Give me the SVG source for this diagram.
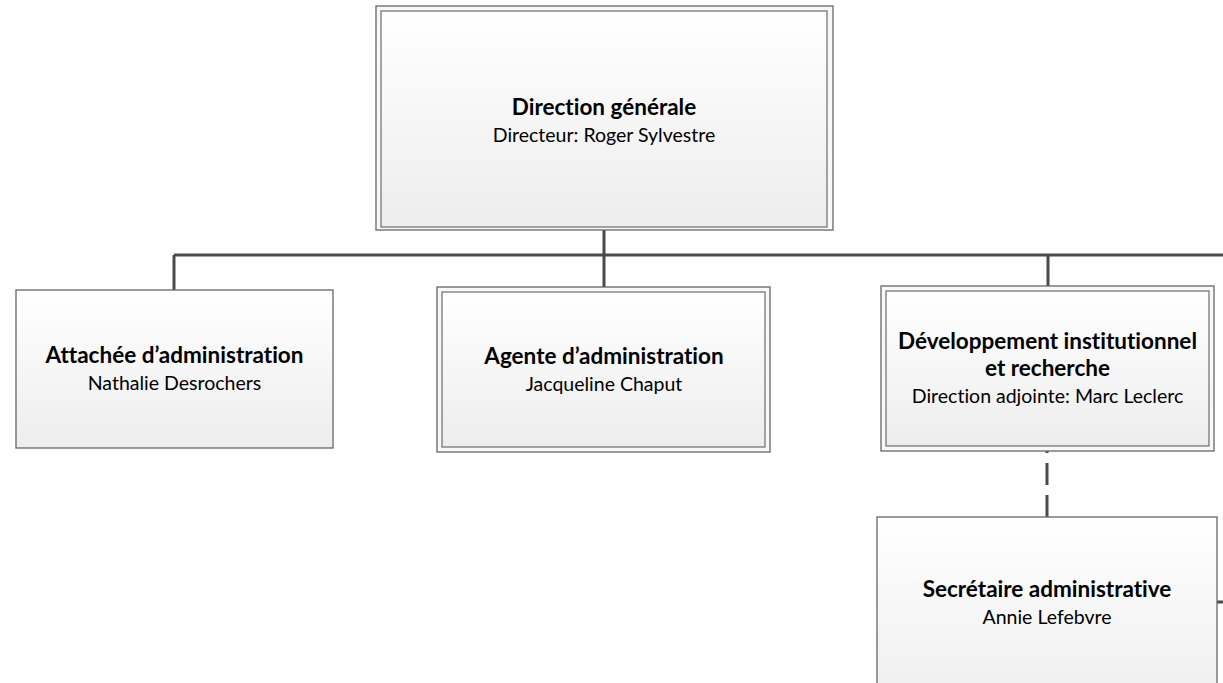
<svg xmlns="http://www.w3.org/2000/svg" width="1223" height="683" viewBox="0 0 1223 683">
<defs>
<linearGradient id="g" x1="0" y1="0" x2="0" y2="1">
<stop offset="0" stop-color="#ffffff"/>
<stop offset="1" stop-color="#ededed"/>
</linearGradient>
<style>
.outer{fill:#f8f8f8;stroke:#666666;stroke-width:1.3}
.inner{fill:url(#g);stroke:#777777;stroke-width:1.3}
.single{fill:url(#g);stroke:#666666;stroke-width:1.3}
.conn{fill:none;stroke:#4a4a4a;stroke-width:3}
.dash{fill:none;stroke:#4a4a4a;stroke-width:3;stroke-dasharray:22 10}
.t{font-family:Lato,"Open Sans",sans-serif;font-weight:bold;font-size:22.5px;fill:#000;text-anchor:middle;font-variant-ligatures:none}
.s{font-family:Lato,"Open Sans",sans-serif;font-size:19.5px;fill:#000;text-anchor:middle;font-variant-ligatures:none}
</style>
</defs>
<rect width="1223" height="683" fill="#ffffff"/>
<g id="connectors">
<path class="conn" d="M604 230V255M174 255H1223M174 255V290M604 255V287M1048 255V286"/>
<path class="dash" d="M1047 517V451"/>
<path class="conn" d="M1217 602H1223"/>
</g>
<g id="direction-generale">
<rect class="outer" x="376" y="6" width="457" height="224"/>
<rect class="inner" x="381" y="11" width="446" height="216"/>
<text class="t" x="604" y="115">Direction générale</text>
<text class="s" x="604" y="142">Directeur: Roger Sylvestre</text>
</g>
<g id="attachee">
<rect class="single" x="16" y="290" width="317" height="158"/>
<text class="t" x="174.5" y="363">Attachée d’administration</text>
<text class="s" x="174.5" y="390">Nathalie Desrochers</text>
</g>
<g id="agente">
<rect class="outer" x="437" y="287" width="333" height="165"/>
<rect class="inner" x="442" y="292" width="323" height="155"/>
<text class="t" x="604" y="364">Agente d’administration</text>
<text class="s" x="604" y="391">Jacqueline Chaput</text>
</g>
<g id="developpement">
<rect class="outer" x="881" y="286" width="333" height="165"/>
<rect class="inner" x="886" y="291" width="323" height="155"/>
<text class="t" x="1047.5" y="349">Développement institutionnel</text>
<text class="t" x="1047.5" y="376">et recherche</text>
<text class="s" x="1047.5" y="403">Direction adjointe: Marc Leclerc</text>
</g>
<g id="secretaire">
<rect class="single" x="877" y="517" width="340" height="200"/>
<text class="t" x="1047" y="597">Secrétaire administrative</text>
<text class="s" x="1047" y="624">Annie Lefebvre</text>
</g>
</svg>
